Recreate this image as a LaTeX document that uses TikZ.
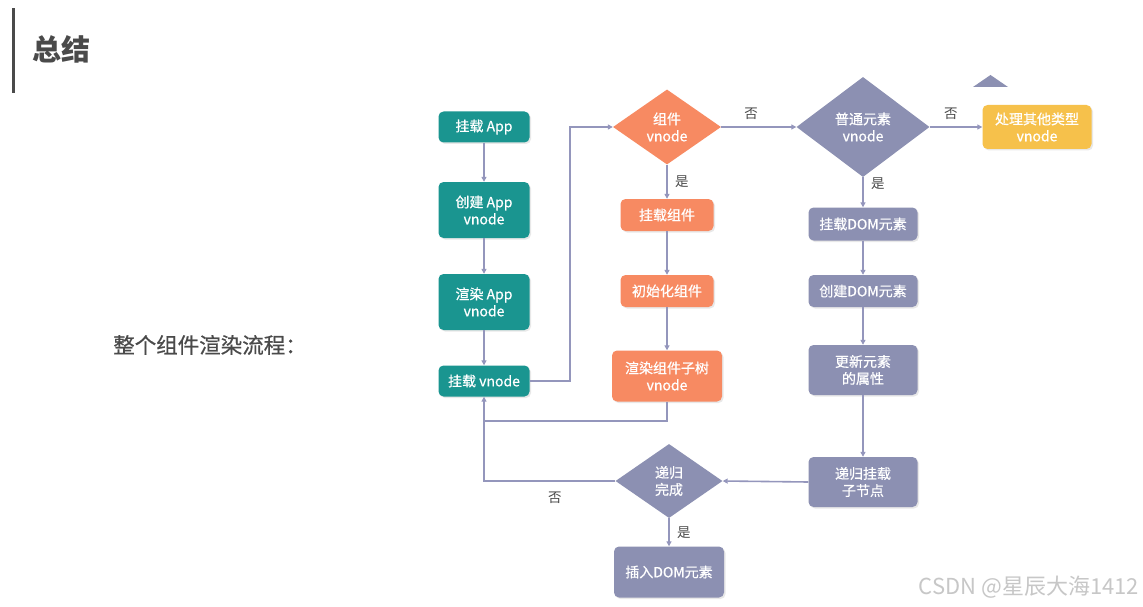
\documentclass[tikz,border=0pt]{standalone}
\usepackage{fontspec}
\setmainfont{Noto Sans CJK SC}
\newfontfamily\boxfont[FakeBold=0.6]{Noto Sans CJK SC}
\usetikzlibrary{shapes.geometric,arrows.meta,shadows}
\definecolor{teal}{HTML}{1A9590}
\definecolor{coral}{HTML}{F78A62}
\definecolor{slate}{HTML}{8C90B2}
\definecolor{gold}{HTML}{F6C14B}
\definecolor{wire}{HTML}{9496BC}
\definecolor{ink}{HTML}{4A4A4A}
\tikzset{
  box/.style={rectangle, rounded corners=5pt, text=white, align=center, font=\boxfont\fontsize{14}{17}\selectfont, inner sep=0pt,
    drop shadow={opacity=0.18, shadow xshift=1.5pt, shadow yshift=-1.5pt}},
  tealbox/.style={box, fill=teal, minimum width=91pt},
  coralbox/.style={box, fill=coral, minimum width=93pt},
  slatebox/.style={box, fill=slate, minimum width=109pt},
  choice/.style={diamond, inner sep=0pt, text=white, align=center, font=\boxfont\fontsize{14}{17}\selectfont},
  flow/.style={draw=wire, line width=1.6pt, -{Triangle[length=5pt,width=5pt]}},
  link/.style={draw=wire, line width=1.6pt},
  tag/.style={text=ink, font=\fontsize{13.5}{15}\selectfont}
}
\begin{document}
\begin{tikzpicture}[x=1pt, y=-1pt]
	\useasboundingbox[fill=white] (0,0) rectangle (1143,607);
	\fill [ink] (11.5,8) rectangle (15,93);
	\node [text=ink, font=\fontsize{29}{32}\selectfont\bfseries] (title) at (61,49) {总结};
	\node [text=ink, font=\boxfont\fontsize{21.5}{25}\selectfont] (intro) at (210,345) {整个组件渲染流程：};
	\node [tealbox, minimum height=31pt] (mountapp) at (484,127) {挂载 App};
	\node [tealbox, minimum height=56pt] (createapp) at (484,210) {创建 App\\vnode};
	\node [tealbox, minimum height=56pt] (renderapp) at (484,302) {渲染 App\\vnode};
	\node [tealbox, minimum height=31pt] (mountvnode) at (484,381) {挂载 vnode};
	\node [choice, fill=coral, minimum width=108pt, minimum height=75pt] (iscomp) at (667,127) {组件\\vnode};
	\node [coralbox, minimum height=32pt] (mountcomp) at (667,215) {挂载组件};
	\node [coralbox, minimum height=32pt] (initcomp) at (667,291) {初始化组件};
	\node [coralbox, minimum width=110pt, minimum height=51pt] (rendersub) at (667,376) {渲染组件子树\\vnode};
	\node [choice, fill=slate, minimum width=133pt, minimum height=100pt] (iselem) at (863,127) {普通元素\\vnode};
	\node [box, fill=gold, minimum width=109pt, minimum height=44pt] (other) at (1037,127) {处理其他类型\\vnode};
	\fill [slate] (973,87) -- (990.5,75) -- (1008,87) -- cycle;
	\node [slatebox, minimum height=33pt] (mountdom) at (863,224) {挂载DOM元素};
	\node [slatebox, minimum height=32pt] (createdom) at (863,291) {创建DOM元素};
	\node [slatebox, minimum height=50pt] (updateprops) at (863,370) {更新元素\\的属性};
	\node [slatebox, minimum height=50pt] (mountchild) at (863,482) {递归挂载\\子节点};
	\node [choice, fill=slate, minimum width=107pt, minimum height=74pt] (isdone) at (669,481) {递归\\完成};
	\node [slatebox, minimum width=110pt, minimum height=51pt] (insertdom) at (669,572) {插入DOM元素};
	\coordinate (back) at (484,421);
	\draw [flow] (mountapp) -- (createapp);
	\draw [flow] (createapp) -- (renderapp);
	\draw [flow] (renderapp) -- (mountvnode);
	\draw [flow] (mountvnode.east) -- (570,381) -- (570,127) -- (iscomp.west);
	\draw [flow] (iscomp.east) -- (iselem.west) node [tag, pos=0.4, above=3pt] {否};
	\draw [flow] (iscomp.south) -- (mountcomp.north) node [tag, midway, right=4pt] {是};
	\draw [flow] (mountcomp) -- (initcomp);
	\draw [flow] (initcomp) -- (rendersub);
	\draw [link] (rendersub.south) |- (back);
	\draw [flow] (back) -- (mountvnode.south);
	\draw [flow] (iselem.east) -- (other.west) node [tag, pos=0.4, above=3pt] {否};
	\draw [flow] (iselem.south) -- (mountdom.north) node [tag, pos=0.2, right=4pt] {是};
	\draw [flow] (mountdom) -- (createdom);
	\draw [flow] (createdom) -- (updateprops);
	\draw [flow] (updateprops) -- (mountchild);
	\draw [flow] (mountchild.west) -- (isdone.east);
	\draw [link] (isdone.west) -| (back) node [tag, pos=0.23, below=7pt] {否};
	\draw [flow] (isdone.south) -- (insertdom.north) node [tag, midway, right=4pt] {是};
	\node [text=black!22, font=\fontsize{22}{25}\selectfont] (mark) at (1029,587) {CSDN @星辰大海1412};
\end{tikzpicture}
\end{document}
